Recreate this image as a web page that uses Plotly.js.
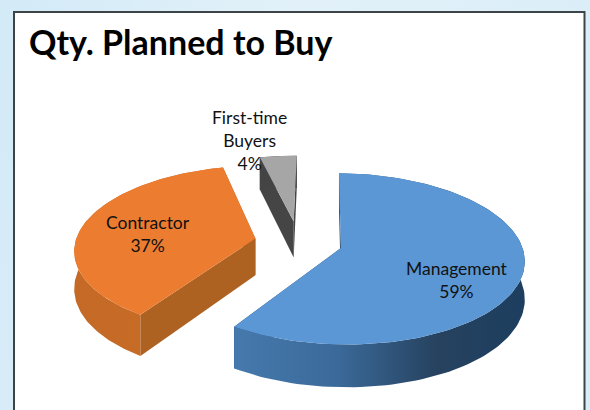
<!DOCTYPE html>
<html>
<head>
<meta charset="utf-8">
<script src="https://cdn.plot.ly/plotly-3.0.1.min.js"></script>
<style>
html,body{margin:0;padding:0;width:590px;height:410px;overflow:hidden;
background:linear-gradient(100deg,#d3eaf7 0%,#e2f1f9 45%,#d9edf8 100%);}
#chart{width:590px;height:410px;}
</style>
</head>
<body>
<div id="chart"></div>
<script>
// ---- data ----
const categories = ["Management", "Contractor", "First-time<br>Buyers"];
const shares = [59, 37, 4];
const chartTitle = "Qty. Planned to Buy";

// ---- slice styles ----
const topColors = ["#5b97d5", "#ec7c30", "#a6a6a6"];
const wallScales = [
  [[0, "#4679ad"], [0.35, "#3b6a9a"], [0.7, "#26425f"], [1, "#1d3e5f"]],
  [[0, "#c46a26"], [1, "#c96e28"]],
  [[0, "#444444"], [1, "#444444"]]
];
const startEdgeColors = ["#1f3d60", "#ad6222", "#454545"];
const endEdgeColors = ["#24476d", "#ad6222", "#454545"];
const labelCentres = [[457, 279.5], [148, 234], [249, 140.5]];

// ---- projection of the exploded pie ----
const centre = [298.5, 242], radii = [180, 180, 170], squash = 0.46, persp = 0.128 / 184, depth = 37;
const rotation = 1, explode = [44, 44, 46];

function project(X, Y, z) {
  const f = 1 + persp * Y;
  return [centre[0] + X / f, centre[1] - squash * Y / f + z * depth / f];
}
function polar(deg, r) {
  const a = deg * Math.PI / 180;
  return [r * Math.sin(a), r * Math.cos(a)];
}

const traces = [];
function poly(pts, color, gradient) {
  const t = {
    type: "scatter", mode: "lines", hoverinfo: "skip",
    x: pts.map(p => p[0]), y: pts.map(p => p[1]),
    fill: "toself", line: {width: 0}, fillcolor: color || "rgba(0,0,0,0)"
  };
  if (gradient) {
    const xs = pts.map(p => p[0]);
    t.fillgradient = {type: "horizontal", colorscale: gradient,
      start: Math.min.apply(null, xs), stop: Math.max.apply(null, xs)};
  }
  traces.push(t);
}

const total = shares.reduce((a, b) => a + b, 0);
let cursor = rotation;
shares.forEach((value, i) => {
  const a0 = cursor, a1 = cursor + value / total * 360;
  cursor = a1;
  const radius = radii[i];
  const off = polar((a0 + a1) / 2, explode[i]);
  const at = (deg, r, z) => {
    const p = polar(deg, r);
    return project(p[0] + off[0], p[1] + off[1], z);
  };
  const angles = [];
  for (let k = 0; k <= 120; k++) angles.push(a0 + (a1 - a0) * k / 120);
  // radial walls, then outer wall, then top face
  poly([at(a1, radius, 0), at(a1, 0, 0), at(a1, 0, 1), at(a1, radius, 1)], endEdgeColors[i]);
  poly([at(a0, radius, 0), at(a0, 0, 0), at(a0, 0, 1), at(a0, radius, 1)], startEdgeColors[i]);
  poly(angles.map(d => at(d, radius, 0)).concat(angles.slice().reverse().map(d => at(d, radius, 1))), null, wallScales[i]);
  poly([at(a0, 0, 0)].concat(angles.map(d => at(d, radius, 0))), topColors[i]);
});

const annotations = categories.map((c, i) => ({
  x: labelCentres[i][0], y: labelCentres[i][1], xref: "x", yref: "y",
  text: c + "<br>" + shares[i] + "%", showarrow: false, align: "center",
  xanchor: "center", yanchor: "middle",
  font: {family: "Lato, sans-serif", size: 17.5, color: "#111111"}
}));
annotations.push({
  x: 26.5, y: 41, xref: "x", yref: "y", text: "<b>" + chartTitle + "</b>", showarrow: false,
  xanchor: "left", yanchor: "middle",
  font: {family: "Lato, sans-serif", size: 34, color: "#000000"}
});

const layout = {
  width: 590, height: 410, margin: {l: 0, r: 0, t: 0, b: 0},
  paper_bgcolor: "rgba(0,0,0,0)", plot_bgcolor: "rgba(0,0,0,0)",
  showlegend: false, hovermode: false,
  xaxis: {range: [0, 590], visible: false, fixedrange: true},
  yaxis: {range: [410, 0], visible: false, fixedrange: true},
  shapes: [{type: "rect", layer: "below", xref: "x", yref: "y", x0: 14, x1: 584.5, y0: 12, y1: 430,
    fillcolor: "#ffffff", line: {color: "#3c4448", width: 2}}],
  annotations: annotations
};
Plotly.newPlot("chart", traces, layout, {staticPlot: true, displayModeBar: false});
</script>
</body>
</html>
